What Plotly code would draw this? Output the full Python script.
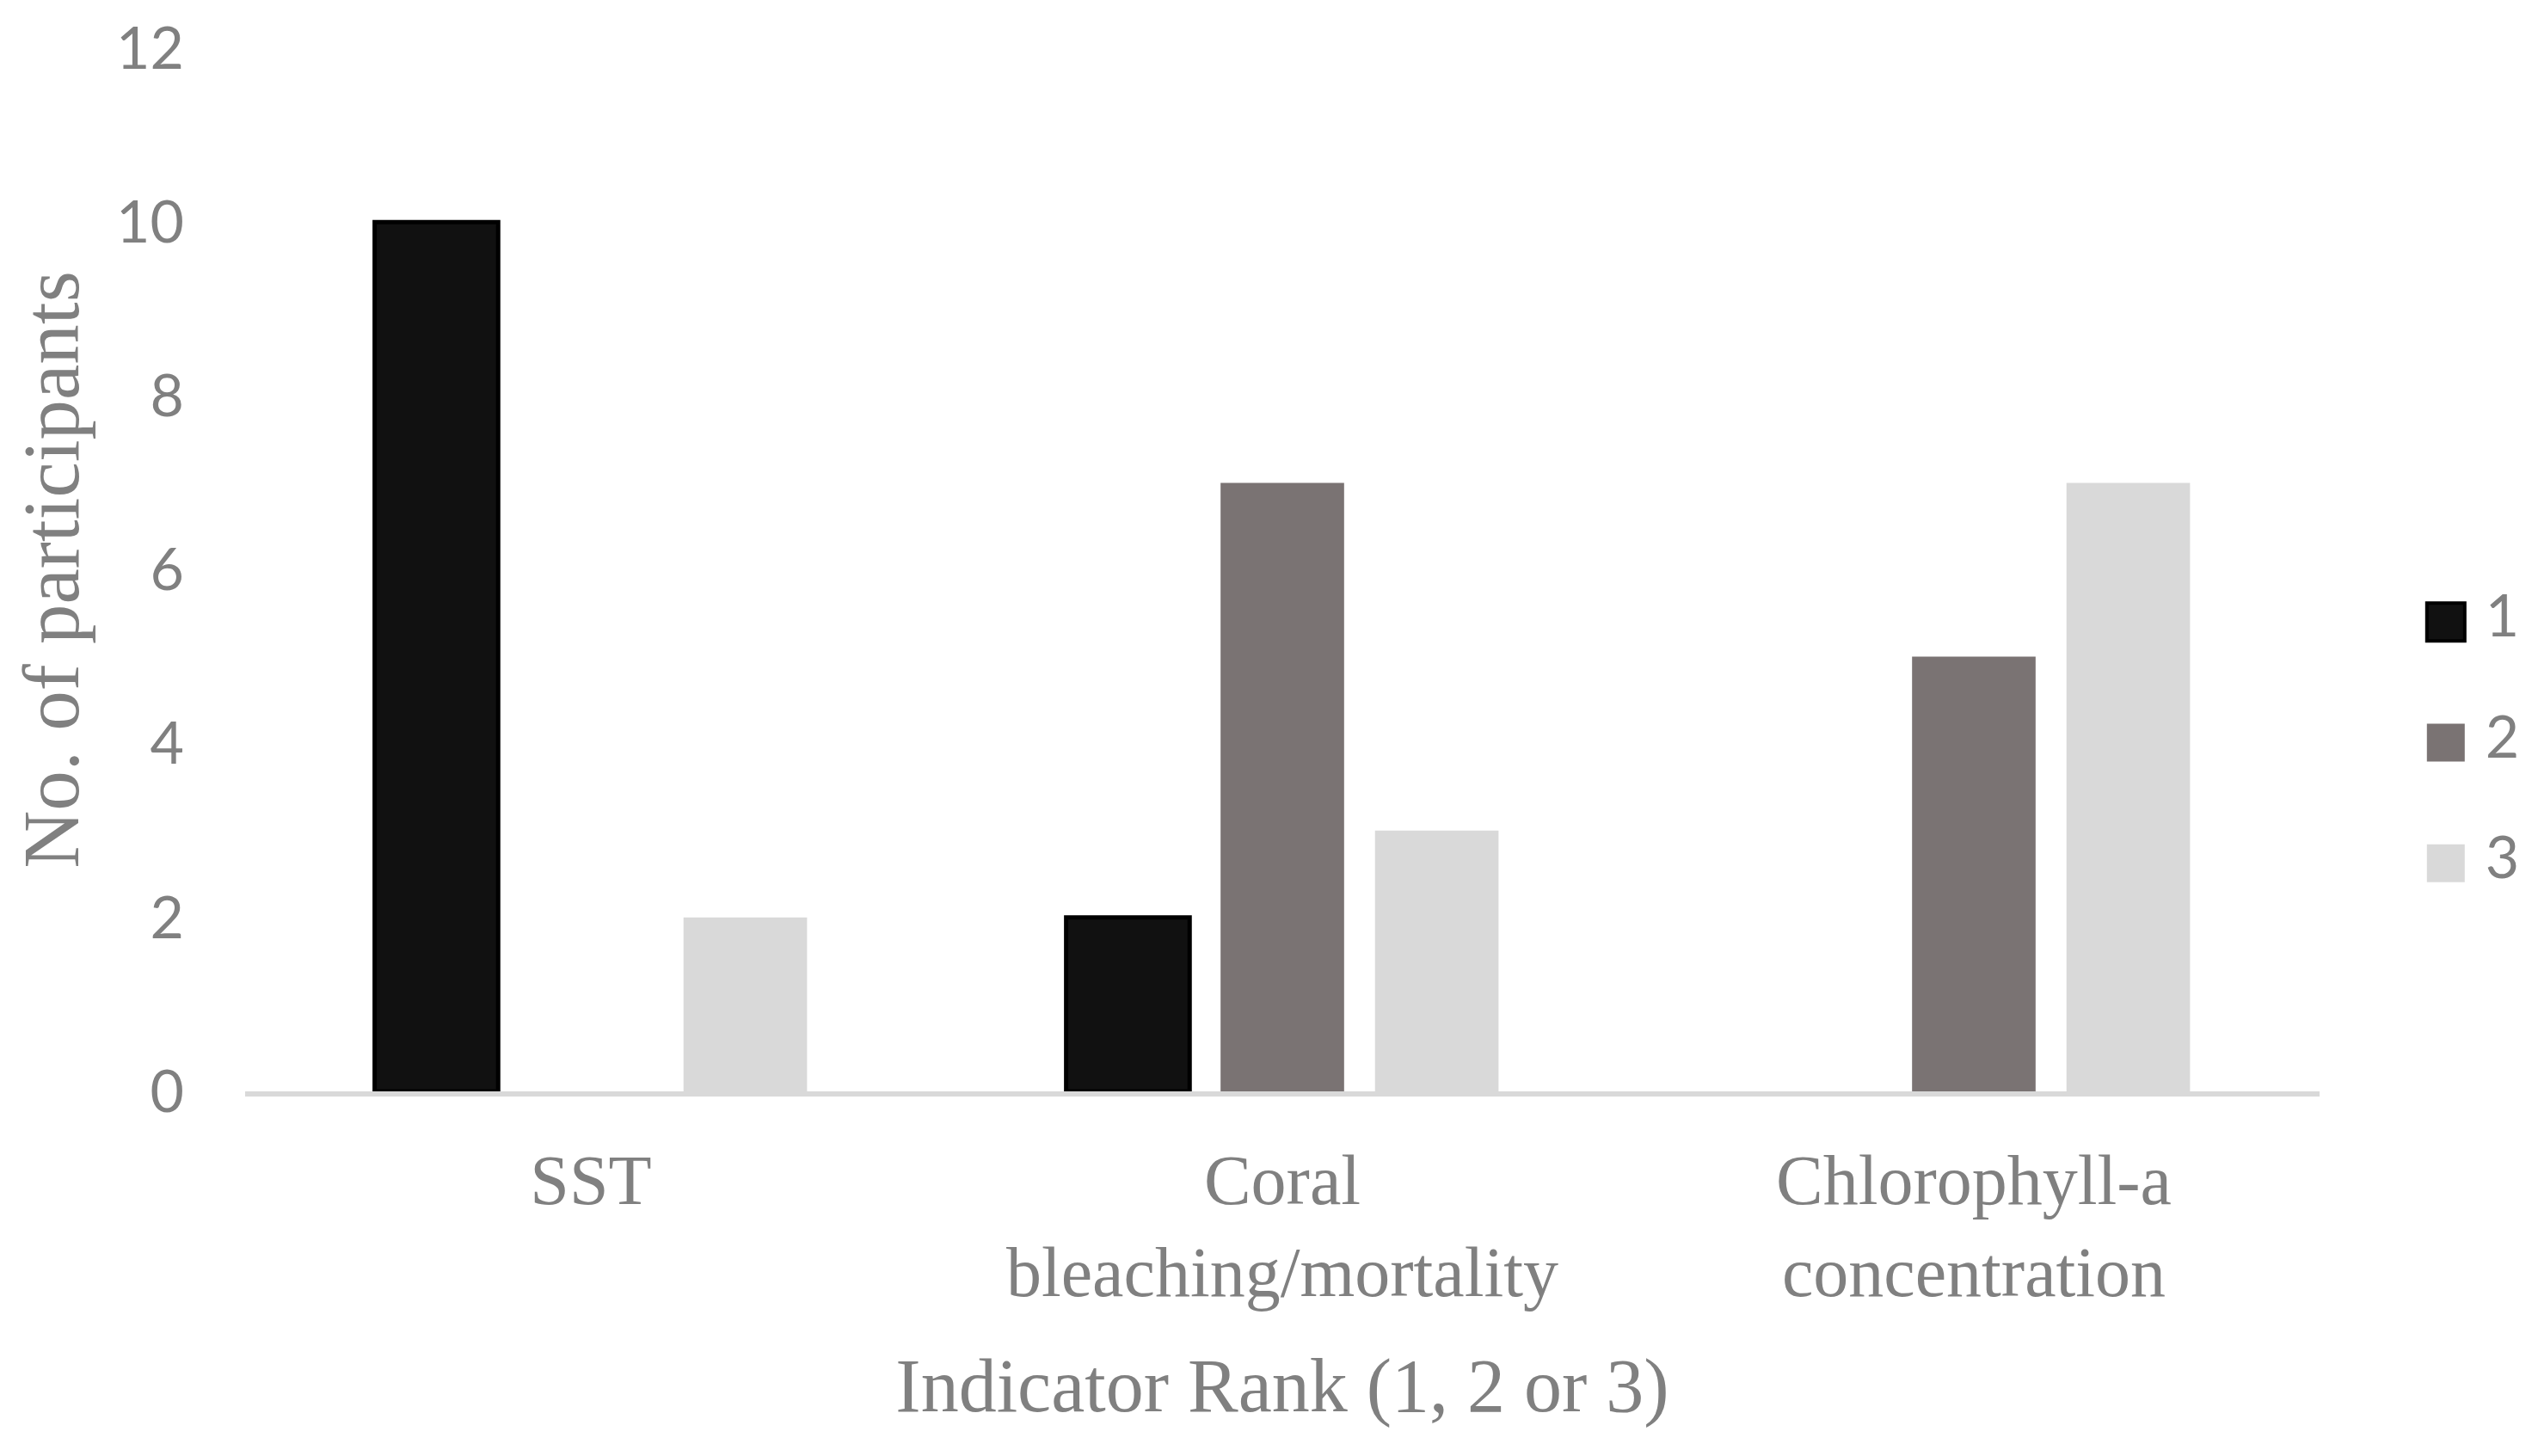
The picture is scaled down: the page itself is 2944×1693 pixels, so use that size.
import plotly.graph_objects as go

categories = ["SST", "Coral<br>bleaching/mortality", "Chlorophyll-a<br>concentration"]
series_names = ["1", "2", "3"]
rank1 = [10, 2, 0]
rank2 = [0, 7, 5]
rank3 = [2, 3, 7]
y_ticks = [0, 2, 4, 6, 8, 10, 12]

values = [rank1, rank2, rank3]
fills = ["#111111", "#7a7373", "#d9d9d9"]
outlines = ["#000000", "rgba(0,0,0,0)", "rgba(0,0,0,0)"]
outline_w = [5, 0, 0]

GRAY = "#808080"
SERIF = "Liberation Serif"
SANS = "Lato"
W, H = 2944, 1693
OFF = 8  # page offset of the plot div

fig = go.Figure()
for name, vals, fc, lc, lw in zip(series_names, values, fills, outlines, outline_w):
    fig.add_trace(go.Bar(
        x=categories,
        y=[v if v > 0 else None for v in vals],
        name=name,
        marker=dict(color=fc, line=dict(color=lc, width=lw)),
        showlegend=False,
        xaxis="x", yaxis="y",
    ))

# legend drawn as a small side panel
fig.add_trace(go.Scatter(
    x=[0, 0, 0],
    y=series_names,
    mode="markers+text",
    text=["\u00a0" + n for n in series_names],
    textposition="middle right",
    textfont=dict(family=SANS, size=68, color=GRAY),
    marker=dict(symbol="square", size=44, color=fills,
                line=dict(color=outlines, width=[4, 0, 0])),
    showlegend=False,
    xaxis="x2", yaxis="y2",
    cliponaxis=False,
))

fig.update_layout(
    width=W, height=H,
    margin=dict(l=0, r=0, t=0, b=0),
    paper_bgcolor="white", plot_bgcolor="white",
    barmode="group", bargap=0.33, bargroupgap=0.2,
    showlegend=False,
    xaxis=dict(
        domain=[(285 - OFF) / W, (2697 - OFF) / W],
        automargin=False,
        showline=True, linecolor="#d9d9d9", linewidth=6,
        showgrid=False, zeroline=False, ticks="",
        tickfont=dict(family=SERIF, size=82, color=GRAY),
        ticklabelstandoff=27,
        title=dict(text="Indicator Rank (1, 2 or 3)",
                   font=dict(family=SERIF, size=88, color=GRAY), standoff=57),
    ),
    yaxis=dict(
        domain=[1 - (1269 - OFF) / H, 1 - (56 - OFF) / H],
        automargin=False,
        range=[0, 12], tickvals=y_ticks,
        showline=False, showgrid=False, zeroline=False, ticks="",
        tickfont=dict(family=SANS, size=68, color=GRAY),
        ticklabelstandoff=70,
        title=dict(text="No. of participants",
                   font=dict(family=SERIF, size=93, color=GRAY), standoff=20),
    ),
    xaxis2=dict(domain=[0.961 - 14 / W, 0.996 - 14 / W], range=[-0.5, 2],
                visible=False, fixedrange=True, automargin=False),
    yaxis2=dict(domain=[1 - (1004 + 70 - OFF) / H, 1 - (723 - 70 - OFF) / H],
                type="category",
                categoryorder="array", categoryarray=series_names,
                range=[2.5, -0.5], visible=False, fixedrange=True,
                automargin=False),
)

fig.write_html("out.html")
